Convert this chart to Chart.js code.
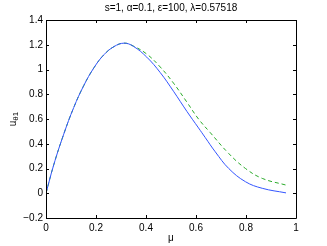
<!DOCTYPE html>
<html>
<head>
<meta charset="utf-8">
<script src="https://cdn.jsdelivr.net/npm/chart.js@4"></script>
<style>
  html, body { margin: 0; padding: 0; background: #fff; }
  canvas { display: block; }
</style>
</head>
<body>
<canvas id="chart" width="327" height="246"></canvas>
<script>
// values
var muBlue = [0, 0.031, 0.071, 0.111, 0.151, 0.192, 0.232, 0.272, 0.312, 0.349, 0.403, 0.457, 0.51, 0.564, 0.61, 0.637, 0.677, 0.731, 0.798, 0.865, 0.96];
var uBlue  = [0, 0.23, 0.478, 0.693, 0.87, 1.015, 1.12, 1.185, 1.213, 1.188, 1.1, 0.975, 0.824, 0.66, 0.528, 0.45, 0.335, 0.2, 0.093, 0.04, 0.003];
var muGreen = [0, 0.031, 0.071, 0.111, 0.151, 0.192, 0.232, 0.272, 0.312, 0.349, 0.403, 0.457, 0.51, 0.564, 0.61, 0.657, 0.731, 0.798, 0.865, 0.96];
var uGreen  = [0, 0.23, 0.478, 0.693, 0.87, 1.015, 1.12, 1.185, 1.213, 1.19, 1.125, 1.02, 0.89, 0.735, 0.6, 0.49, 0.321, 0.2, 0.12, 0.066];
var xTicks = [0, 0.2, 0.4, 0.6, 0.8, 1];
var yTicks = [-0.2, 0, 0.2, 0.4, 0.6, 0.8, 1, 1.2, 1.4];

function pts(xs, ys) {
    var out = [];
    for (var i = 0; i < xs.length; i++) {
        out.push({x: xs[i], y: ys[i]});
    }
    return out;
}

function fmt(v) {
    var s = String(Math.round(v * 10) / 10);
    return s.replace('-', '\u2212');
}

var FONT = 'Liberation Sans, Arial, sans-serif';

// MATLAB style box, inward ticks, title and labels
var framePlugin = {
    id: 'frame',
    afterDraw: function (chart) {
        var ctx = chart.ctx,
            a = chart.chartArea,
            xs = chart.scales.x,
            ys = chart.scales.y;
        ctx.save();
        ctx.strokeStyle = '#000';
        ctx.lineWidth = 1;
        ctx.beginPath();
        ctx.rect(Math.round(a.left) + 0.5, Math.round(a.top) + 0.5,
                 Math.round(a.right - a.left), Math.round(a.bottom - a.top));
        ctx.stroke();
        ctx.beginPath();
        xTicks.forEach(function (t) {
            var px = Math.round(xs.getPixelForValue(t)) + 0.5;
            ctx.moveTo(px, a.bottom); ctx.lineTo(px, a.bottom - 3);
            ctx.moveTo(px, a.top); ctx.lineTo(px, a.top + 3);
        });
        yTicks.forEach(function (t) {
            var py = Math.round(ys.getPixelForValue(t)) + 0.5;
            ctx.moveTo(a.left, py); ctx.lineTo(a.left + 3, py);
            ctx.moveTo(a.right, py); ctx.lineTo(a.right - 3, py);
        });
        ctx.stroke();

        ctx.fillStyle = '#000';
        ctx.textAlign = 'center';
        ctx.textBaseline = 'middle';
        ctx.font = '10px ' + FONT;
        ctx.fillText('s=1, \u03b1=0.1, \u03b5=100, \u03bb=0.57518', (a.left + a.right) / 2, 8);
        ctx.fillText('\u03bc', (a.left + a.right) / 2, 238);

        // y label: u with subscript θ1, rotated
        ctx.translate(13, (a.top + a.bottom) / 2);
        ctx.rotate(-Math.PI / 2);
        ctx.textAlign = 'left';
        ctx.font = '10px ' + FONT;
        var w1 = ctx.measureText('u').width;
        ctx.font = '8px ' + FONT;
        var w2 = ctx.measureText('\u03b81').width;
        var x0 = -(w1 + w2) / 2;
        ctx.font = '10px ' + FONT;
        ctx.fillText('u', x0, 0);
        ctx.font = '8px ' + FONT;
        ctx.fillText('\u03b81', x0 + w1, 3);
        ctx.restore();
    }
};

new Chart(document.getElementById('chart'), {
    type: 'line',
    data: {
        datasets: [{
            data: pts(muBlue, uBlue),
            borderColor: '#3355ff',
            borderWidth: 1,
            pointRadius: 0,
            tension: 0.4,
            fill: false
        }, {
            data: pts(muGreen, uGreen),
            borderColor: '#2aaa2a',
            borderWidth: 1,
            borderDash: [4, 3],
            pointRadius: 0,
            tension: 0.4,
            fill: false
        }]
    },
    options: {
        responsive: false,
        animation: false,
        layout: { padding: { left: 0, top: 20, right: 31, bottom: 0 } },
        plugins: {
            legend: { display: false },
            tooltip: { enabled: false },
            title: { display: false }
        },
        scales: {
            x: {
                type: 'linear',
                min: 0,
                max: 1,
                afterFit: function (s) { s.height = 28; },
                afterBuildTicks: function (s) {
                    s.ticks = xTicks.map(function (v) { return {value: v}; });
                },
                grid: { display: false, drawTicks: false },
                border: { display: false },
                ticks: {
                    color: '#000',
                    font: { family: FONT, size: 10 },
                    padding: 4,
                    maxRotation: 0,
                    callback: function (v) { return fmt(v); }
                }
            },
            y: {
                type: 'linear',
                min: -0.2,
                max: 1.4,
                afterFit: function (s) { s.width = 46; },
                afterBuildTicks: function (s) {
                    s.ticks = yTicks.map(function (v) { return {value: v}; });
                },
                grid: { display: false, drawTicks: false },
                border: { display: false },
                ticks: {
                    color: '#000',
                    font: { family: FONT, size: 10 },
                    padding: 3,
                    callback: function (v) { return fmt(v); }
                }
            }
        }
    },
    plugins: [framePlugin]
});
</script>
</body>
</html>
